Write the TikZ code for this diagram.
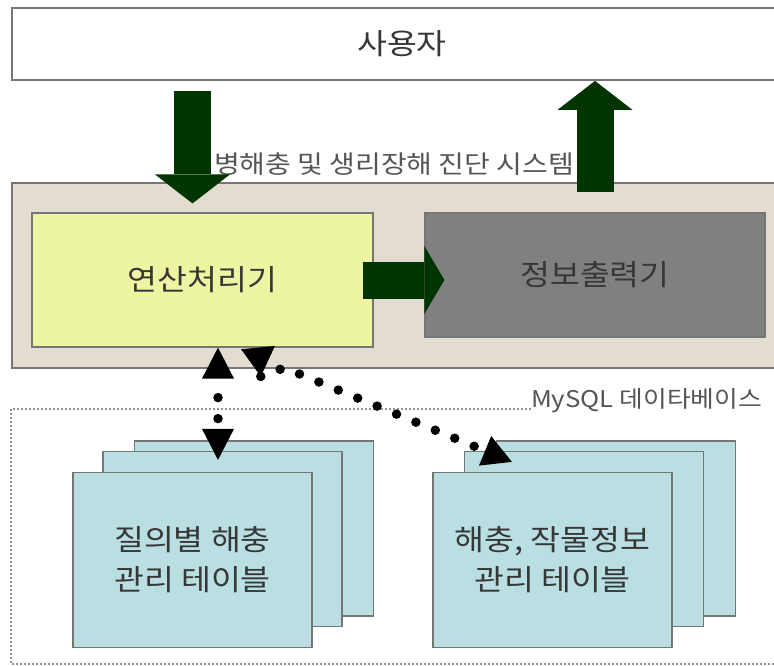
\documentclass[tikz,border=0pt]{standalone}
\usepackage{fontspec}
\setmainfont{Noto Sans CJK KR}[FakeStretch=1.12]
\usetikzlibrary{arrows.meta}
\definecolor{beigeA}{RGB}{227,220,209}
\definecolor{yellowA}{RGB}{238,245,162}
\definecolor{grayA}{RGB}{128,128,128}
\definecolor{tealA}{RGB}{185,223,226}
\definecolor{greenA}{RGB}{0,52,0}
\definecolor{ink}{RGB}{55,55,55}
\definecolor{edge}{RGB}{118,118,118}
\tikzset{
  panel/.style={
    draw=edge,
    line width=1.8pt,
    fill=#1,
    inner sep=0pt,
    font=\fontsize{29}{34}\selectfont,
    text=ink
  },
  block/.style={
    draw=edge,
    line width=1.2pt,
    fill=#1,
    inner sep=0pt,
    font=\fontsize{29}{34}\selectfont,
    text=ink
  },
  tabbox/.style={
    draw=edge,
    line width=1.2pt,
    fill=tealA,
    minimum width=239pt,
    minimum height=175pt,
    align=center,
    inner sep=0pt,
    font=\fontsize{29}{40}\selectfont,
    text=ink
  },
  tag/.style={inner sep=0pt, font=\fontsize{23}{25}\selectfont, text=ink!85},
  bigarrow/.style={draw=greenA, line width=37pt, -{Triangle[length=29pt,width=75pt,line width=0pt]}},
  dotlink/.style={
    draw=black, line width=9.5pt, line cap=round, dash pattern=on 0pt off 21pt,
    {Triangle[length=31pt,width=32pt,line width=0pt]}-{Triangle[length=31pt,width=32pt,line width=0pt]}
  },
  dbframe/.style={draw=edge!80, line width=1.2pt, dash pattern=on 2pt off 2pt},
}
\begin{document}
\begin{tikzpicture}[x=1pt,y=-1pt]
\useasboundingbox (0,0) rectangle (774,666);

% user and system panels
\node[panel=white, minimum width=780pt, minimum height=72pt] (user) at (402,44) {사용자};
\node[panel=beigeA, minimum width=778pt, minimum height=185pt] (system) at (401,275.5) {};
\node[tag, font=\fontsize{25}{27}\selectfont] (syslabel) at (394,164) {병해충 및 생리장해 진단 시스템};

\node[block=yellowA, minimum width=341pt, minimum height=134pt] (calc) at (202.5,280) {연산처리기};
\node[block=grayA, minimum width=340pt, minimum height=124pt] (output) at (595,275) {정보출력기};

\draw[bigarrow] ([xshift=-10pt,yshift=-10pt]calc.north |- user.south) -- ([xshift=-10pt,yshift=9pt]calc.north);
\draw[bigarrow] ([yshift=-10pt]output.north |- system.north) -- (output.north |- user.south);
\draw[bigarrow, -{Triangle[length=20pt,width=68pt,line width=0pt]}] ([xshift=-11pt]calc.east) -- ([xshift=20pt]output.west |- calc.east);

% database
\node[tag, anchor=base east] (dblabel) at (762,407) {MySQL 데이타베이스};
\draw[dbframe] (dblabel.west |- 0,409) -- (11,409) -- (11,664) -- (790,664);

\node[tabbox] (qtabback) at (254,528.5) {};
\node[tabbox] (qtabmid) at (222.5,539) {};
\node[tabbox] (qtab) at (192.5,560) {질의별 해충\\관리 테이블};

\node[tabbox] (ctabback) at (616,528.5) {};
\node[tabbox] (ctabmid) at (584,539) {};
\node[tabbox] (ctab) at (552.5,560) {해충, 작물정보\\관리 테이블};

\draw[dotlink, dash phase=2pt] ([xshift=15.5pt]calc.south) -- ([xshift=15.5pt,yshift=-9pt]calc.south |- qtabmid.north);
\draw[dotlink, {Triangle[reversed,length=29pt,width=34pt,line width=0pt]}-{Triangle[length=29pt,width=32pt,line width=0pt]}]
  ([xshift=55.5pt]calc.south) .. controls +(3,31) and +(-12,5) .. ++(26,20)
  -- ([xshift=48pt,yshift=-11pt]ctabmid.north west);

\end{tikzpicture}
\end{document}
